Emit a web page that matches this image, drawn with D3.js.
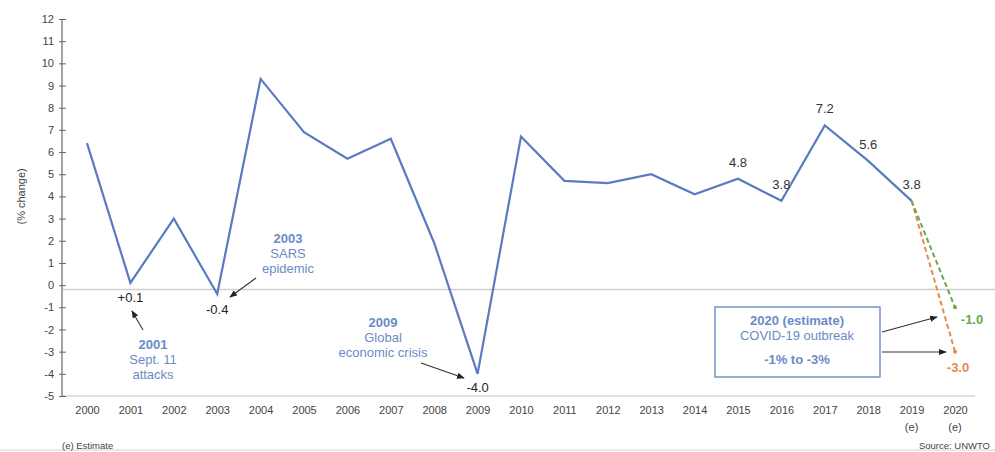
<!DOCTYPE html>
<html>
<head>
<meta charset="utf-8">
<script src="https://cdn.jsdelivr.net/npm/d3@7"></script>
<style>
  html, body { margin: 0; padding: 0; background: #fff; }
  svg { display: block; font-family: "Liberation Sans", Arial, sans-serif; }
</style>
</head>
<body>
<svg id="chart" width="995" height="452"></svg>
<script>
// International tourist arrivals, annual % change
const years = [2000, 2001, 2002, 2003, 2004, 2005, 2006, 2007, 2008, 2009, 2010,
               2011, 2012, 2013, 2014, 2015, 2016, 2017, 2018, 2019];
const growth = [6.4, 0.1, 3.0, -0.4, 9.3, 6.9, 5.7, 6.6, 1.9, -4.0, 6.7,
                4.7, 4.6, 5.0, 4.1, 4.8, 3.8, 7.2, 5.6, 3.8];
const tickYears = [2000, 2001, 2002, 2003, 2004, 2005, 2006, 2007, 2008, 2009, 2010,
                   2011, 2012, 2013, 2014, 2015, 2016, 2017, 2018, 2019, 2020];
const estimateYears = [2019, 2020];
const yTicks = [-5, -4, -3, -2, -1, 0, 1, 2, 3, 4, 5, 6, 7, 8, 9, 10, 11, 12];
// 2020 scenarios: optimistic and pessimistic
const scenarioHigh = [3.8, -1.0];
const scenarioLow = [3.8, -3.0];
// Values printed beside the line
const labelledYears = [2015, 2016, 2017, 2018, 2019];

const svg = d3.select("#chart");
const x = d3.scaleLinear().domain([2000, 2020]).range([87, 955]);
const y = d3.scaleLinear().domain([-5, 12]).range([396, 19]);

const blue = "#5a7bbf";
const textBlue = "#6b8bc6";
const green = "#6aa84f";
const orange = "#e58a4e";

// plain hyphen-minus instead of the typographic minus
const locale = d3.formatLocale({ decimal: ".", thousands: ",", grouping: [3], currency: ["", ""], minus: "-" });
const fmtInt = locale.format("d");
const fmt = locale.format(".1f");

// reference lines
svg.append("line").attr("x1", 62).attr("x2", 995)
  .attr("y1", y(-0.2)).attr("y2", y(-0.2))
  .attr("stroke", "#cfcfcf").attr("stroke-width", 1.5);
svg.append("line").attr("x1", 62).attr("x2", 975)
  .attr("y1", y(-5)).attr("y2", y(-5))
  .attr("stroke", "#d6d6d6").attr("stroke-width", 1.5);
svg.append("line").attr("x1", 0).attr("x2", 995)
  .attr("y1", 450).attr("y2", 450)
  .attr("stroke", "#e2e2e2").attr("stroke-width", 1.5);

// y axis
const yAxis = svg.append("g").attr("transform", "translate(62,0)")
  .call(d3.axisLeft(y).tickValues(yTicks).tickFormat(fmtInt).tickSize(3).tickPadding(5));
yAxis.select(".domain").attr("stroke", "#666").attr("stroke-width", 1.2).attr("d", `M0,${y(12)}V${y(-5)}`);
yAxis.selectAll(".tick line").attr("x1", -3).attr("x2", 4).attr("stroke", "#666");
yAxis.selectAll(".tick text").attr("fill", "#444").style("font-size", "11px");

svg.append("text")
  .attr("transform", `translate(22,${y(4)}) rotate(-90)`)
  .attr("text-anchor", "middle").attr("dominant-baseline", "middle")
  .attr("fill", "#444").style("font-size", "11px").text("(% change)");

// x axis labels
const xAxis = svg.append("g").attr("transform", `translate(0,${y(-5)})`)
  .call(d3.axisBottom(x).tickValues(tickYears).tickFormat(d3.format("d")).tickSize(0).tickPadding(10));
xAxis.select(".domain").remove();
xAxis.selectAll(".tick text").attr("fill", "#444").style("font-size", "11px");
svg.selectAll(".est").data(estimateYears).enter().append("text")
  .attr("x", d => x(d)).attr("y", 431).attr("text-anchor", "middle")
  .attr("fill", "#444").style("font-size", "11px").text("(e)");

// arrow marker
const defs = svg.append("defs");
defs.append("marker").attr("id", "arr").attr("viewBox", "0 0 10 10")
  .attr("refX", 9).attr("refY", 5).attr("markerWidth", 7).attr("markerHeight", 7)
  .attr("orient", "auto")
  .append("path").attr("d", "M0,1L10,5L0,9Z").attr("fill", "#222");

// dashed 2020 scenarios
const line = d3.line().x((d, i) => x(estimateYears[i])).y(d => y(d));
svg.append("path").datum(scenarioLow).attr("d", line)
  .attr("fill", "none").attr("stroke", orange).attr("stroke-width", 2).attr("stroke-dasharray", "5,3");
svg.append("path").datum(scenarioHigh).attr("d", line)
  .attr("fill", "none").attr("stroke", green).attr("stroke-width", 2).attr("stroke-dasharray", "5,3");
svg.append("circle").attr("cx", x(2020)).attr("cy", y(scenarioHigh[1])).attr("r", 2).attr("fill", green);
svg.append("circle").attr("cx", x(2020)).attr("cy", y(scenarioLow[1])).attr("r", 2).attr("fill", orange);

// main series
const mainLine = d3.line().x((d, i) => x(years[i])).y(d => y(d));
svg.append("path").datum(growth).attr("d", mainLine)
  .attr("fill", "none").attr("stroke", blue).attr("stroke-width", 2.2).attr("stroke-linejoin", "miter");

// value labels
const valOf = yr => growth[years.indexOf(yr)];
svg.selectAll(".val").data(labelledYears).enter().append("text")
  .attr("x", d => x(d)).attr("y", d => y(valOf(d)) - 12)
  .attr("text-anchor", "middle").attr("fill", "#333").style("font-size", "13px")
  .text(d => fmt(valOf(d)));
svg.append("text").attr("x", x(2001)).attr("y", y(valOf(2001)) + 19)
  .attr("text-anchor", "middle").attr("fill", "#222").style("font-size", "13px").text("+" + fmt(valOf(2001)));
svg.append("text").attr("x", x(2003)).attr("y", y(valOf(2003)) + 20)
  .attr("text-anchor", "middle").attr("fill", "#222").style("font-size", "13px").text(fmt(valOf(2003)));
svg.append("text").attr("x", x(2009)).attr("y", y(valOf(2009)) + 18)
  .attr("text-anchor", "middle").attr("fill", "#222").style("font-size", "13px").text(fmt(valOf(2009)));
svg.append("text").attr("x", x(2020) + 17).attr("y", y(scenarioHigh[1]) + 17)
  .attr("text-anchor", "middle").attr("fill", green).attr("font-weight", "bold").style("font-size", "13px")
  .text(fmt(scenarioHigh[1]));
svg.append("text").attr("x", x(2020) + 3).attr("y", y(scenarioLow[1]) + 20)
  .attr("text-anchor", "middle").attr("fill", orange).attr("font-weight", "bold").style("font-size", "13px")
  .text(fmt(scenarioLow[1]));

// event annotations
function note(cx, ys, lines) {
  lines.forEach((t, i) => {
    svg.append("text").attr("x", cx).attr("y", ys[i]).attr("text-anchor", "middle")
      .attr("fill", textBlue).attr("font-weight", i === 0 ? "bold" : "normal")
      .style("font-size", "13px").text(t);
  });
}
function arrow(x1, y1, x2, y2) {
  svg.append("line").attr("x1", x1).attr("y1", y1).attr("x2", x2).attr("y2", y2)
    .attr("stroke", "#333").attr("stroke-width", 1.1).attr("marker-end", "url(#arr)");
}
note(153, [349, 364, 379], ["2001", "Sept. 11", "attacks"]);
arrow(143, 330, 132, 311);
note(288, [243, 258, 273], ["2003", "SARS", "epidemic"]);
arrow(256, 278, 230, 297);
note(383, [327, 342, 357], ["2009", "Global", "economic crisis"]);
arrow(421, 363, 464, 378);

// 2020 outlook box
svg.append("rect").attr("x", 715).attr("y", 307).attr("width", 165).attr("height", 70)
  .attr("fill", "#fff").attr("stroke", textBlue).attr("stroke-width", 1.4);
svg.append("text").attr("x", 797).attr("y", 325).attr("text-anchor", "middle")
  .attr("fill", textBlue).attr("font-weight", "bold").style("font-size", "13px").text("2020 (estimate)");
svg.append("text").attr("x", 797).attr("y", 340).attr("text-anchor", "middle")
  .attr("fill", textBlue).style("font-size", "13px").text("COVID-19 outbreak");
svg.append("text").attr("x", 797).attr("y", 364).attr("text-anchor", "middle")
  .attr("fill", textBlue).attr("font-weight", "bold").style("font-size", "13px").text("-1% to -3%");
arrow(882, 332, 937, 317);
arrow(882, 352, 946, 352);

// footer
svg.append("text").attr("x", 62).attr("y", 449).attr("fill", "#444").style("font-size", "9.5px").text("(e) Estimate");
svg.append("text").attr("x", 990).attr("y", 449).attr("text-anchor", "end")
  .attr("fill", "#444").style("font-size", "9.5px").text("Source: UNWTO");
</script>
</body>
</html>
